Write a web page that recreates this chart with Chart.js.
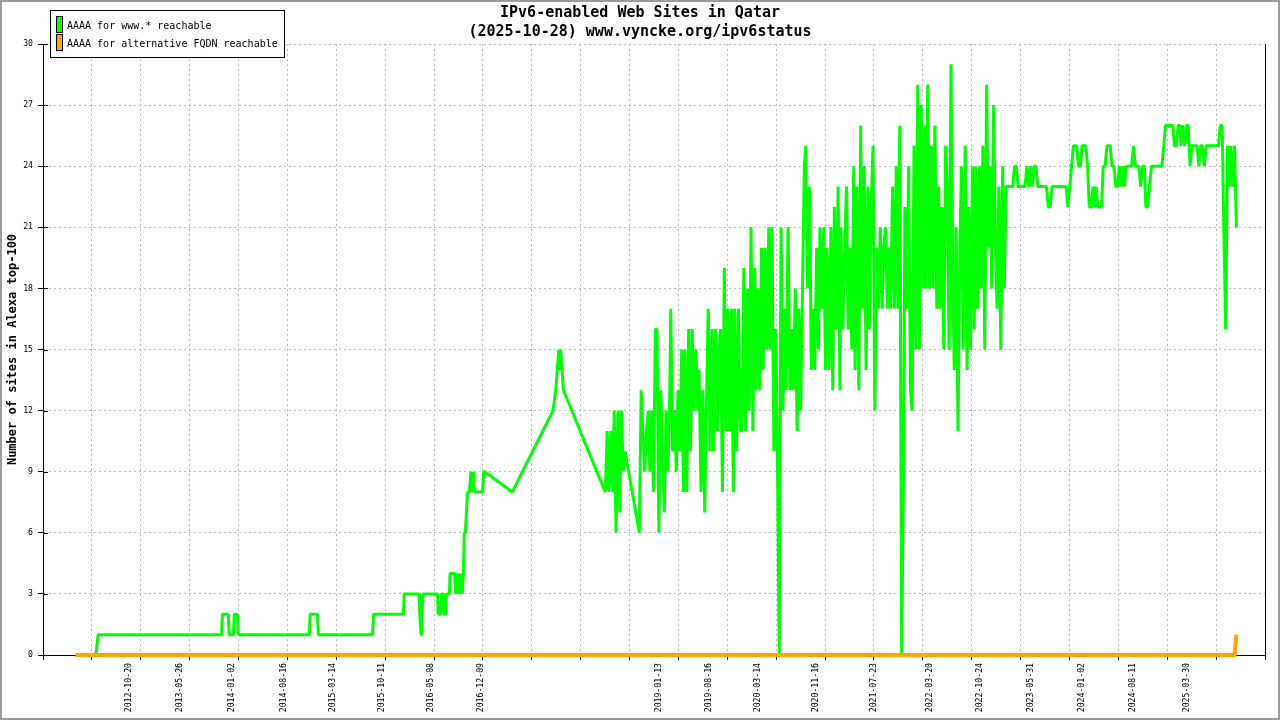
<!DOCTYPE html>
<html lang="en">
<head>
<meta charset="UTF-8">
<title>IPv6-enabled Web Sites in Qatar</title>
<script src="https://cdn.jsdelivr.net/npm/chart.js@4"></script>
<style>
  html, body { margin: 0; padding: 0; background: #fff; }
  #wrap { width: 1280px; height: 720px; }
</style>
</head>
<body>
<div id="wrap"><canvas id="ipv6Chart" width="1280" height="720"></canvas></div>

<script>
    // AAAA for www.* : sparse readings up to mid 2018
    var wwwDates = [
        '2012-03-03', '2012-05-29', '2012-06-08',
        '2013-11-20', '2013-11-24', '2013-12-19', '2013-12-23',
        '2014-01-10', '2014-01-14', '2014-01-27', '2014-01-31',
        '2014-12-02', '2014-12-06', '2015-01-06', '2015-01-10',
        '2015-08-31', '2015-09-04',
        '2016-01-10', '2016-01-14',
        '2016-03-18', '2016-03-21', '2016-03-26', '2016-03-30', '2016-04-04',
        '2016-06-05', '2016-06-08', '2016-06-18', '2016-06-22', '2016-06-30', '2016-07-03', '2016-07-10', '2016-07-14', '2016-07-22',
        '2016-07-26', '2016-07-29',
        '2016-08-18', '2016-08-21', '2016-08-27', '2016-09-01', '2016-09-06', '2016-09-10', '2016-09-15', '2016-09-19', '2016-09-24',
        '2016-09-28', '2016-10-03', '2016-10-07', '2016-10-12',
        '2016-10-20', '2016-10-27', '2016-11-03', '2016-11-07', '2016-11-11',
        '2016-12-16', '2016-12-20', '2016-12-26',
        '2017-04-22',
        '2017-10-14', '2017-10-26', '2017-11-08', '2017-11-12', '2017-11-16', '2017-11-22', '2017-11-28',
        '2018-05-27'
    ];
    var wwwValues = [
        0, 0, 1,
        1, 2, 2, 1,
        1, 2, 2, 1,
        1, 2, 2, 1,
        1, 2,
        2, 3,
        3, 2, 1, 2, 3,
        3, 2, 2, 3, 3, 2, 2, 3, 3,
        3, 4,
        4, 3, 4, 3, 4, 3, 4, 3, 4,
        6, 6, 7, 8,
        8, 9, 8, 9, 8,
        8, 9, 9,
        8,
        12, 13, 15, 14, 15, 14, 13,
        8
    ];

    // AAAA for www.* : from June 2018 on, four readings per month (null = no data)
    var gridDays = ['04', '12', '20', '28'];
    var gridMonths = [
        '2018-06', '2018-07', '2018-08', '2018-09', '2018-10', '2018-11', '2018-12',
        '2019-01', '2019-02', '2019-03', '2019-04', '2019-05', '2019-06', '2019-07', '2019-08', '2019-09', '2019-10', '2019-11', '2019-12',
        '2020-01', '2020-02', '2020-03', '2020-04', '2020-05', '2020-06', '2020-07', '2020-08', '2020-09', '2020-10', '2020-11', '2020-12',
        '2021-01', '2021-02', '2021-03', '2021-04', '2021-05', '2021-06', '2021-07', '2021-08', '2021-09', '2021-10', '2021-11', '2021-12',
        '2022-01', '2022-02', '2022-03', '2022-04', '2022-05', '2022-06', '2022-07', '2022-08', '2022-09', '2022-10', '2022-11', '2022-12',
        '2023-01', '2023-02', '2023-03', '2023-04', '2023-05', '2023-06', '2023-07', '2023-08', '2023-09', '2023-10', '2023-11', '2023-12',
        '2024-01', '2024-02', '2024-03', '2024-04', '2024-05', '2024-06', '2024-07', '2024-08', '2024-09', '2024-10', '2024-11', '2024-12',
        '2025-01', '2025-02', '2025-03', '2025-04', '2025-05', '2025-06', '2025-07', '2025-08', '2025-09', '2025-10'
    ];
    var gridValues = [
        // 2018
        11, 8, 11, 8,
        12, 6, 12, 7,
        12, 9, 10, null,
        null, null, null, null,
        null, null, 6, 13,
        11, 9, 11, 12,
        9, 12, 8, 16,
        // 2019
        16, 6, 13, 10,
        7, 12, 9, 13,
        17, 10, 12, 9,
        13, 10, 15, 8,
        15, 8, 16, 10,
        16, 12, 15, 12,
        14, 8, 13, 7,
        12, 17, 10, 16,
        10, 16, 11, 15,
        16, 8, 19, 11,
        17, 11, 17, 8,
        17, 10, 17, 11,
        // 2020
        11, 19, 11, 18,
        12, 21, 11, 19,
        13, 18, 13, 20,
        14, 20, 15, 21,
        15, 21, 10, 16,
        10, 0, 21, 12,
        17, 13, 21, 13,
        16, 13, 18, 11,
        17, 12, 18, 24,
        25, 18, 23, 14,
        17, 14, 20, 15,
        21, 17, 21, 14,
        // 2021
        20, 14, 21, 13,
        22, 16, 23, 13,
        21, 16, 20, 23,
        16, 20, 15, 24,
        14, 23, 13, 26,
        17, 24, 14, 23,
        16, 22, 25, 12,
        20, 17, 21, 17,
        20, 21, 17, 20,
        17, 23, 17, 24,
        17, 26, 0, 9,
        22, 17, 24, 13,
        // 2022
        12, 25, 15, 28,
        15, 27, 18, 26,
        18, 28, 18, 25,
        18, 26, 17, 23,
        17, 22, 15, 25,
        23, 15, 29, 18,
        14, 21, 11, 20,
        24, 15, 25, 14,
        22, 15, 24, 16,
        24, 17, 24, 18,
        25, 15, 28, 20,
        24, 18, 27, 20,
        // 2023
        17, 23, 15, 24,
        18, 23, 23, 23,
        23, 23, 24, 24,
        23, 23, 23, 23,
        23, 24, 23, 24,
        23, 24, 24, 23,
        23, 23, 23, 23,
        23, 22, 22, 23,
        23, 23, 23, 23,
        23, 23, 23, 23,
        22, 23, 24, 25,
        25, 25, 24, 24,
        // 2024
        25, 25, 25, 24,
        22, 22, 23, 22,
        23, 22, 22, 22,
        24, 24, 25, 25,
        25, 24, 24, 23,
        23, 24, 23, 24,
        23, 24, 24, 24,
        24, 25, 24, 24,
        24, 23, 24, 24,
        22, 22, 23, 24,
        24, 24, 24, 24,
        24, 24, 25, 26,
        // 2025
        26, 26, 26, 26,
        25, 25, 26, 26,
        25, 26, 25, 26,
        26, 24, 25, 25,
        25, 25, 24, 25,
        25, 24, 25, 25,
        25, 25, 25, 25,
        25, 25, 26, 26,
        21, 16, 25, 23,
        25, 23, 25, 21
    ];

    // AAAA for alternative FQDN
    var altDates = ['2012-03-03', '2025-10-20', '2025-10-28'];
    var altValues = [0, 0, 1];

    var tickLabels = [
        '2012-10-20', '2013-05-26', '2014-01-02', '2014-08-16', '2015-03-14', '2015-10-11',
        '2016-05-08', '2016-12-09', '2019-01-13', '2019-08-16', '2020-03-14', '2020-11-16',
        '2021-07-23', '2022-03-20', '2022-10-24', '2023-05-31', '2024-01-02', '2024-08-11', '2025-03-30'
    ];
    var axisStart = '2011-10-15';
    var axisEnd = '2026-02-28';
    var axisSteps = 25;

    var seriesNames = ['AAAA for www.* reachable', 'AAAA for alternative FQDN reachable'];
    var titleLines = ['IPv6-enabled Web Sites in Qatar', '(2025-10-28) www.vyncke.org/ipv6status'];

    var mono = "'DejaVu Sans Mono', 'Liberation Mono', monospace";

    function toMs(s) {
        var p = s.split('-');
        return Date.UTC(+p[0], +p[1] - 1, +p[2]);
    }

    var wwwPoints = wwwDates.map(function (d, i) {
        return {x: toMs(d), y: wwwValues[i]};
    });
    gridMonths.forEach(function (m, i) {
        gridDays.forEach(function (d, j) {
            wwwPoints.push({x: toMs(m + '-' + d), y: gridValues[i * 4 + j]});
        });
    });
    var altPoints = altDates.map(function (d, i) {
        return {x: toMs(d), y: altValues[i]};
    });

    var xMin = toMs(axisStart);
    var xMax = toMs(axisEnd);

    // white background, legend box and outer frame
    var framePlugin = {
        id: 'frame',
        beforeDraw: function (chart) {
            var c = chart.ctx;
            c.save();
            c.fillStyle = '#fff';
            c.fillRect(0, 0, chart.width, chart.height);
            c.restore();
        },
        afterDraw: function (chart) {
            var c = chart.ctx, a = chart.chartArea, ys = chart.scales.y;
            c.save();
            // short inner tick stubs on the y axis
            c.strokeStyle = '#000';
            c.lineWidth = 1;
            c.beginPath();
            ys.ticks.forEach(function (t) {
                var py = Math.round(ys.getPixelForValue(t.value)) + 0.5;
                c.moveTo(a.left, py);
                c.lineTo(a.left + 5, py);
            });
            c.stroke();

            // legend
            c.fillStyle = '#fff';
            c.fillRect(50.5, 10.5, 234, 47);
            c.strokeRect(50.5, 10.5, 234, 47);
            c.font = '10px ' + mono;
            c.textBaseline = 'middle';
            [chart.data.datasets[1], chart.data.datasets[0]].forEach(function (ds, i) {
                var sy = 16 + i * 18;
                c.fillStyle = ds.borderColor;
                c.fillRect(56.5, sy + 0.5, 6, 16);
                c.strokeStyle = '#000';
                c.strokeRect(56.5, sy + 0.5, 6, 16);
                c.fillStyle = '#000';
                c.fillText(ds.label, 67, sy + 10);
            });

            // outer grey frame
            c.strokeStyle = '#9c9c9c';
            c.lineWidth = 2;
            c.strokeRect(1, 1, chart.width - 2, chart.height - 2);
            c.restore();
        }
    };

    var ctx = document.getElementById('ipv6Chart').getContext('2d');
    var myChart = new Chart(ctx, {
        type: 'line',
        data: {
            datasets: [{
                label: seriesNames[1],
                data: altPoints,
                borderColor: '#ffa500',
                backgroundColor: '#ffa500',
                borderWidth: 4,
                pointRadius: 0,
                fill: false,
                clip: false,
                order: 1
            }, {
                label: seriesNames[0],
                data: wwwPoints,
                borderColor: '#00ff00',
                backgroundColor: '#00ff00',
                borderWidth: 3,
                borderJoinStyle: 'bevel',
                pointRadius: 0,
                spanGaps: true,
                fill: false,
                clip: false,
                order: 2
            }]
        },
        options: {
            responsive: false,
            animation: false,
            devicePixelRatio: 1,
            layout: {padding: 0},
            plugins: {
                legend: {display: false},
                tooltip: {enabled: false},
                title: {
                    display: true,
                    text: titleLines,
                    color: '#000',
                    font: {family: mono, size: 15, weight: 'bold', lineHeight: 19 / 15},
                    padding: {top: 4, bottom: 2}
                }
            },
            scales: {
                x: {
                    type: 'linear',
                    min: xMin,
                    max: xMax,
                    afterBuildTicks: function (scale) {
                        var ticks = [];
                        for (var k = 0; k <= axisSteps; k++) {
                            ticks.push({value: xMin + k * (xMax - xMin) / axisSteps, reg: true, edge: k === 0 || k === axisSteps});
                        }
                        tickLabels.forEach(function (s) {
                            ticks.push({value: toMs(s), lbl: s});
                        });
                        ticks.sort(function (p, q) { return p.value - q.value; });
                        scale.ticks = ticks;
                    },
                    afterFit: function (scale) { scale.height = 65; },
                    ticks: {
                        autoSkip: false,
                        minRotation: 90,
                        maxRotation: 90,
                        padding: 3,
                        color: '#000',
                        font: {family: mono, size: 8.2},
                        callback: function (value, index, ticks) {
                            return ticks[index].lbl || '';
                        }
                    },
                    grid: {
                        color: function (c) {
                            return c.tick && c.tick.reg && !c.tick.edge ? '#bdbdbd' : 'rgba(0,0,0,0)';
                        },
                        tickColor: function (c) {
                            return c.tick && c.tick.reg ? '#000' : 'rgba(0,0,0,0)';
                        },
                        tickLength: 5,
                        lineWidth: 1
                    },
                    border: {display: true, color: '#000', width: 1, dash: [2, 3]}
                },
                y: {
                    min: 0,
                    max: 30,
                    afterFit: function (scale) { scale.width = 43; },
                    ticks: {
                        stepSize: 3,
                        padding: 5,
                        color: '#000',
                        font: {family: mono, size: 8.2}
                    },
                    grid: {
                        color: function (c) {
                            return c.tick && c.tick.value === 0 ? 'rgba(0,0,0,0)' : '#bdbdbd';
                        },
                        tickColor: '#000',
                        tickLength: 5
                    },
                    border: {display: true, color: '#000', width: 1, dash: [2, 3]},
                    title: {
                        display: true,
                        text: 'Number of sites in Alexa top-100',
                        color: '#000',
                        font: {family: mono, size: 12, weight: 'bold'},
                        padding: {top: 6, bottom: 0}
                    }
                },
                yRight: {
                    position: 'right',
                    min: 0,
                    max: 30,
                    afterFit: function (scale) { scale.width = 15; },
                    ticks: {display: false},
                    grid: {display: false, drawTicks: false},
                    border: {display: true, color: '#000', width: 1}
                }
            }
        },
        plugins: [framePlugin]
    });
</script>
</body>
</html>
